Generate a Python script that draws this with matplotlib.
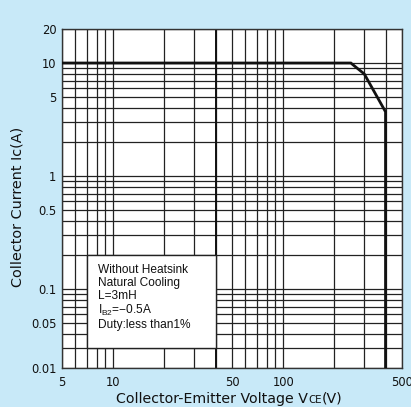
import matplotlib
matplotlib.use("Agg")
import matplotlib.pyplot as plt
from matplotlib.patches import Rectangle

# ---- data ----
vce = [5, 250, 300, 400, 400]          # V
ic = [10, 10, 8, 3.7, 0.02]            # A (bottom of plot)

x_major = [5, 10, 50, 100, 500]
x_major_labels = ["5", "10", "50", "100", "500"]
x_minor = [6, 7, 8, 9, 20, 30, 40, 60, 70, 80, 90, 200, 300, 400]

# the reference labels its bottom gridline "0.01" although it sits one log step at 0.02
y_major = [0.02, 0.05, 0.1, 0.5, 1, 5, 10, 20]
y_major_labels = ["0.01", "0.05", "0.1", "0.5", "1", "5", "10", "20"]
y_minor = [0.03, 0.04, 0.06, 0.07, 0.08, 0.09, 0.2, 0.3, 0.4, 0.6, 0.7, 0.8, 0.9,
           2, 3, 4, 6, 7, 8, 9]

note_lines = ["Without Heatsink", "Natural Cooling", "L=3mH",
              "I$_{B2}$=\u22120.5A", "Duty:less than1%"]

x_label_parts = ["Collector-Emitter Voltage V", "CE", "(V)"]
y_label = "Collector Current Ic(A)"

BG = "#c8e9f8"
W, H = 411, 407
plt.rcParams["font.family"] = ["DejaVu Sans"]
plt.rcParams["mathtext.fontset"] = "custom"
plt.rcParams["mathtext.rm"] = "Liberation Sans"
plt.rcParams["mathtext.default"] = "regular"

fig = plt.figure(figsize=(W / 100, H / 100), dpi=100, facecolor=BG)
ax = fig.add_axes([62 / W, 1 - 368 / H, 340 / W, 339 / H])
ax.set_facecolor("white")
ax.set_xscale("log")
ax.set_yscale("log")
ax.set_xlim(5, 500)
ax.set_ylim(0.02, 20)

ax.set_xticks(x_major)
ax.set_xticklabels(x_major_labels)
ax.set_xticks(x_minor, minor=True)
ax.set_xticklabels([], minor=True)
ax.set_yticks(y_major)
ax.set_yticklabels(y_major_labels)
ax.set_yticks(y_minor, minor=True)
ax.set_yticklabels([], minor=True)
ax.tick_params(which="both", length=0, labelsize=8.3, colors="#111")
ax.tick_params(axis="x", pad=6)
ax.tick_params(axis="y", pad=4)

ax.set_axisbelow(True)
ax.grid(which="both", color="#222", lw=0.9)
ax.axvline(40, color="#111", lw=1.4, zorder=0.6)
for s in ax.spines.values():
    s.set_color("#333")
    s.set_linewidth(1.0)

# note box
ax.add_patch(Rectangle((7, 0.03), 40 - 7, 0.2 - 0.03, facecolor="white",
                       edgecolor="#222", lw=1.0, zorder=1))
ax.text(8.1, 0.168, "\n".join(note_lines), fontsize=8.6, va="top", ha="left",
        linespacing=1.12, zorder=2, family="Liberation Sans", color="#111")

ax.plot(vce, ic, color="#111", lw=2.0, zorder=3, solid_joinstyle="miter", clip_on=True)

# axis titles
fig.text(17.5 / W, 1 - 206.5 / H, y_label, rotation=90, fontsize=10.4,
         ha="center", va="center", color="#111")

renderer = fig.canvas.get_renderer()
x_px = 116.0
base = 1 - 403 / H
sizes = [10.2, 7.4, 10.2]
for part, fs in zip(x_label_parts, sizes):
    t = fig.text(x_px / W, base, part, fontsize=fs, ha="left", va="baseline", color="#111")
    bb = t.get_window_extent(renderer)
    x_px = bb.x1 + 0.3

fig.savefig("out.png", dpi=100, facecolor=BG)
